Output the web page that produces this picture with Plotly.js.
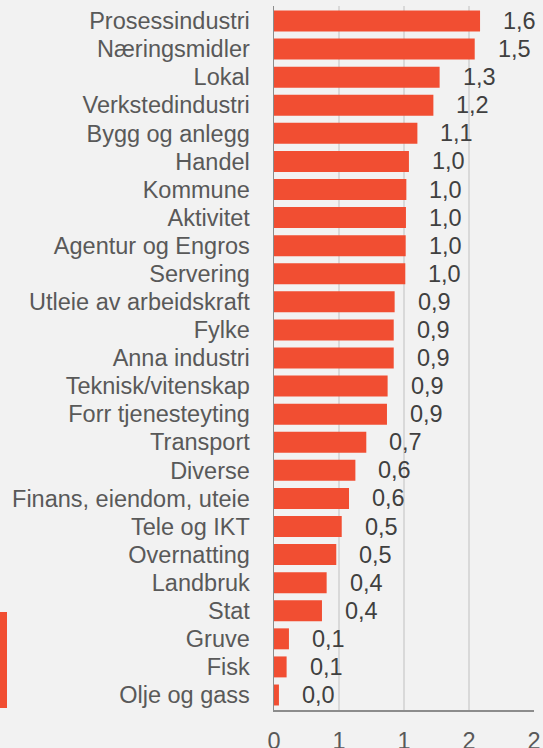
<!DOCTYPE html>
<html>
<head>
<meta charset="utf-8">
<script src="https://cdn.plot.ly/plotly-3.0.1.min.js"></script>
<style>html,body{margin:0;padding:0;background:#F2F2F2;}#chart{width:543px;height:748px;}</style>
</head>
<body>
<div id="chart"></div>
<script>
const categories = ["Prosessindustri","Næringsmidler","Lokal","Verkstedindustri","Bygg og anlegg","Handel","Kommune","Aktivitet","Agentur og Engros","Servering","Utleie av arbeidskraft","Fylke","Anna industri","Teknisk/vitenskap","Forr tjenesteyting","Transport","Diverse","Finans, eiendom, uteie","Tele og IKT","Overnatting","Landbruk","Stat","Gruve","Fisk","Olje og gass"];
const values = [1.585,1.544,1.274,1.226,1.103,1.038,1.018,1.015,1.013,1.010,0.928,0.921,0.921,0.874,0.869,0.710,0.626,0.577,0.521,0.479,0.405,0.369,0.115,0.097,0.038];
const tickVals = [0,0.5,1,1.5,2];
const tickLabels = ["0","1","1","2","2"];

const labels = values.map(v => v.toFixed(1).replace('.', ','));

const W = 543, H = 748;
const M = {l:274, r:9, t:6, b:38};
const pw = W - M.l - M.r, ph = H - M.t - M.b;
const px2x = px => (px - M.l) / pw;
const py2y = py => (H - M.b - py) / ph;

const font = "Liberation Sans, Arial, sans-serif";
const red = "#F14E32";
const fs = 23.5;

const trace = {
  type: 'bar',
  orientation: 'h',
  x: values,
  y: categories,
  marker: {color: red},
  hoverinfo: 'skip'
};

const annotations = values.map((v, i) => ({
  x: v, y: categories[i], xref: 'x', yref: 'y',
  text: labels[i], showarrow: false,
  xanchor: 'left', yanchor: 'middle', xshift: 21,
  font: {family: font, size: fs, color: '#404040'}
}));

const layout = {
  width: W, height: H,
  margin: M,
  paper_bgcolor: '#F2F2F2',
  plot_bgcolor: '#F2F2F2',
  showlegend: false,
  bargap: 0.254,
  font: {family: font, size: fs, color: '#595959'},
  xaxis: {
    range: [0, 2],
    tickvals: tickVals,
    ticktext: tickLabels,
    showgrid: true,
    gridcolor: '#D9D9D9',
    gridwidth: 1.5,
    zeroline: false,
    showline: true,
    linecolor: '#8C8C8C',
    linewidth: 1.5,
    ticks: '',
    ticklabelstandoff: 9,
    tickfont: {family: font, size: fs, color: '#595959'},
    fixedrange: true
  },
  yaxis: {
    type: 'category',
    categoryorder: 'array',
    categoryarray: categories,
    autorange: 'reversed',
    showgrid: false,
    zeroline: false,
    showline: true,
    linecolor: '#8C8C8C',
    linewidth: 1.5,
    ticks: '',
    ticklabelstandoff: 18,
    tickfont: {family: font, size: fs, color: '#595959'},
    fixedrange: true
  },
  annotations: annotations,
  shapes: [{
    type: 'rect', xref: 'paper', yref: 'paper',
    x0: px2x(0), x1: px2x(7), y0: py2y(708), y1: py2y(612),
    fillcolor: red, line: {width: 0}
  }]
};

Plotly.newPlot('chart', [trace], layout, {displayModeBar: false, staticPlot: true});
</script>
</body>
</html>
